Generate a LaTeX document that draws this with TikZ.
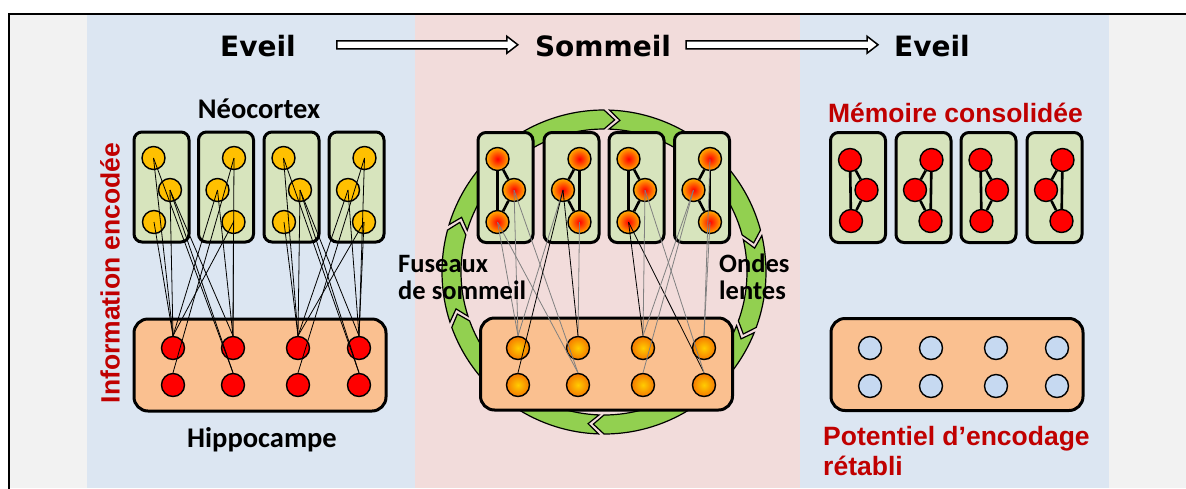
\documentclass[tikz,border=0pt]{standalone}
\usepackage{fontspec}
\setmainfont{Liberation Sans}
\newfontfamily\titlefont{DejaVu Sans}
\newfontfamily\califont{Carlito}
\usetikzlibrary{calc}
\definecolor{bgGray}{HTML}{F2F2F2}
\definecolor{bgBlue}{HTML}{DCE6F2}
\definecolor{bgPink}{HTML}{F2DCDB}
\definecolor{boxGreen}{HTML}{D7E4BD}
\definecolor{boxOrange}{HTML}{FAC090}
\definecolor{nYellow}{HTML}{FFC000}
\definecolor{nRed}{HTML}{FF0000}
\definecolor{nBlue}{HTML}{C6D9F1}
\definecolor{ringGreen}{HTML}{92D050}
\definecolor{darkRed}{HTML}{C00000}
\definecolor{hotEdge}{HTML}{FFB000}
\definecolor{warmIn}{HTML}{FFCC00}
\definecolor{warmEdge}{HTML}{F57A00}
\definecolor{linkGray}{HTML}{808080}
\begin{document}
\begin{tikzpicture}[x=1pt,y=-1pt,
 title/.style={font=\titlefont\bfseries\fontsize{28}{32}\selectfont,inner sep=0pt,anchor=base},
 blklab/.style={font=\califont\bfseries\fontsize{28.5}{32}\selectfont,inner sep=0pt,anchor=base},
 sidelab/.style={font=\califont\bfseries\fontsize{26.5}{29}\selectfont,inner sep=0pt,anchor=base west},
 redlab/.style={font=\bfseries\fontsize{26.5}{30}\selectfont,text=darkRed,inner sep=0pt},
 cbox/.style={rectangle,draw=black,line width=3pt,fill=boxGreen,rounded corners=8pt,minimum width=55pt,minimum height=110pt,inner sep=0pt},
 hbox/.style={rectangle,draw=black,line width=3pt,fill=boxOrange,rounded corners=14pt,minimum width=252pt,minimum height=92pt,inner sep=0pt},
 neuron/.style={circle,draw=black,line width=1.4pt,minimum size=23pt,inner sep=0pt},
 yeln/.style={neuron,fill=nYellow},
 redn/.style={neuron,fill=nRed},
 blun/.style={neuron,fill=nBlue},
 hotn/.style={neuron,inner color=red,outer color=hotEdge},
 warmn/.style={neuron,inner color=warmIn,outer color=warmEdge},
 link/.style={line width=0.8pt,black},
 glink/.style={line width=0.8pt,linkGray},
 tri/.style={line width=2.6pt,black},
 ringseg/.style={draw=black,line width=1.2pt,fill=ringGreen},
 arrowbody/.style={draw=black,line width=1.5pt,fill=white,line join=miter}
]
\useasboundingbox (0,0) rectangle (1186,488);
% backgrounds
\fill[white] (0,0) rectangle (1186,488);
\fill[bgGray] (9,14) rectangle (1186,488);
\fill[bgBlue] (87,15) rectangle (415,488);
\fill[bgPink] (415,15) rectangle (800,488);
\fill[bgBlue] (800,15) rectangle (1109,488);
\draw[line width=2pt] (9,490) -- (9,14) -- (1188,14);

% titles
\node[title] (eveilA) at (258,56) {Eveil};
\node[title] (sommeil) at (603,56) {Sommeil};
\node[title] (eveilB) at (932,56) {Eveil};
\coordinate (a1s) at ($(eveilA.east)+(41,-0.8)$);
\coordinate (a1t) at ($(sommeil.west)+(-17,-0.8)$);
\coordinate (a2s) at ($(sommeil.east)+(15,-0.8)$);
\coordinate (a2t) at ($(eveilB.west)+(-16,-0.8)$);
\foreach \s/\t in {a1s/a1t,a2s/a2t}{
  \draw[arrowbody] ($(\s)+(0,-4)$) -- ($(\t)+(-11,-4)$) -- ($(\t)+(-11,-8.5)$) -- (\t)
     -- ($(\t)+(-11,8.5)$) -- ($(\t)+(-11,4)$) -- ($(\s)+(0,4)$) -- cycle;
}

% ===== Left panel =====
\foreach \i/\cx/\s in {1/161.5/1,2/226/-1,3/291.5/1,4/356.5/-1}{
  \node[cbox] (Lbox\i) at (\cx,187) {};
  \node[yeln] (La\i) at ({\cx-8*\s},158) {};
  \node[yeln] (Lb\i) at ({\cx+8.5*\s},190) {};
  \node[yeln] (Lc\i) at ({\cx-7.5*\s},222) {};
}
\node[hbox] (Lhip) at (260,365) {};
\foreach \j/\hx in {1/173,2/233,3/298,4/359}{
  \node[redn] (LHt\j) at (\hx,348) {};
  \node[redn] (LHb\j) at (\hx,385) {};
}
\foreach \p/\q in {1/2,3/4}{
  \draw[link] (La\p.center) -- (LHt\p.north);
  \draw[link] (Lb\p.center) -- (LHt\p.north);
  \draw[link] (Lc\p.center) -- (LHt\p.north);
  \draw[link] (La\p.center) -- (LHb\q.north);
  \draw[link] (Lb\p.center) -- (LHt\q.north);
  \draw[link] (Lb\p.center) -- (LHb\q.north);
  \draw[link] (La\q.center) -- (LHt\q.north);
  \draw[link] (Lb\q.center) -- (LHt\q.north);
  \draw[link] (Lc\q.center) -- (LHt\q.north);
  \draw[link] (La\q.center) -- (LHb\p.north);
  \draw[link] (Lb\q.center) -- (LHt\p.north);
  \draw[link] (Lc\q.center) -- (LHt\p.north);
}
\node[blklab] (neo) at (259,118) {Néocortex};
\node[blklab] (hippo) at (262,447) {Hippocampe};
\node[redlab,rotate=90,anchor=base] (info) at (119.5,273) {Information encodée};

% ===== Middle panel =====
\begin{scope}[shift={(604,272)}]
\foreach \s/\e in {-90/-15,-15/20,20/90,90/160,160/195,195/270}{
  \pgfmathsetmacro\sa{\s+2}
  \pgfmathsetmacro\ea{\e+4}
  \pgfmathsetmacro\na{\s+6}
  \draw[ringseg] (\sa:162) arc[start angle=\sa,end angle=\e,radius=162] -- (\ea:152.5) -- (\e:143) arc[start angle=\e,end angle=\sa,radius=143] -- (\na:152.5) -- cycle;
}
\end{scope}
\foreach \i/\cx/\s in {1/505.5/1,2/571.5/-1,3/636.5/1,4/702/-1}{
  \node[cbox] (Mbox\i) at (\cx,187.5) {};
  \node[hotn] (Ma\i) at ({\cx-8*\s},159) {};
  \node[hotn] (Mb\i) at ({\cx+8.5*\s},190) {};
  \node[hotn] (Mc\i) at ({\cx-8*\s},222) {};
  \draw[tri] (Ma\i) -- (Mc\i);
  \draw[tri] (Ma\i) -- (Mb\i);
  \draw[tri] (Mb\i) -- (Mc\i);
}
\node[hbox] (Mhip) at (606.5,364) {};
\foreach \j/\hx in {1/518,2/578,3/643,4/704}{
  \node[warmn] (MHt\j) at (\hx,348) {};
  \node[warmn] (MHb\j) at (\hx,385) {};
}
\draw[glink] (Mc1.center) -- (MHt1.north);
\draw[glink] (Mb1.center) -- (MHt1.north);
\draw[glink] (Mc1.center) -- (MHb2.north);
\draw[glink] (Mb1.center) -- (MHb2.north);
\draw[glink] (Mb2.center) -- (MHt1.north);
\draw[glink] (Mc2.center) -- (MHt2.north);
\draw[link] (Mb2.center) -- (MHb1.north);
\draw[link] (Mb2.center) -- (MHt2.north);
\draw[link] (Mc3.center) -- (MHt3.north);
\draw[link] (Mc3.center) -- (MHb4.north);
\draw[glink] (Mb3.center) -- (MHt3.north);
\draw[glink] (Mb3.center) -- (MHb4.north);
\draw[glink] (Mb4.center) -- (MHt3.north);
\draw[glink] (Mb4.center) -- (MHb3.north);
\draw[glink] (Ma4.center) -- (MHt4.north);
\draw[glink] (Mc4.center) -- (MHt4.north);
\node[sidelab] (fus1) at (398,272) {Fuseaux};
\node[sidelab] (fus2) at (398,299) {de sommeil};
\node[sidelab] (ond1) at (719,272) {Ondes};
\node[sidelab] (ond2) at (719,299) {lentes};

% ===== Right panel =====
\foreach \i/\cx/\s in {1/858/1,2/923.5/-1,3/988.5/1,4/1054.5/-1}{
  \node[cbox] (Rbox\i) at (\cx,187.5) {};
  \node[redn] (Ra\i) at ({\cx-8*\s},160) {};
  \node[redn] (Rb\i) at ({\cx+8.5*\s},190) {};
  \node[redn] (Rc\i) at ({\cx-7*\s},221) {};
  \draw[tri] (Ra\i) -- (Rc\i);
  \draw[tri] (Ra\i) -- (Rb\i);
  \draw[tri] (Rb\i) -- (Rc\i);
}
\node[hbox] (Rhip) at (957,364.5) {};
\foreach \j/\hx in {1/870,2/931,3/996,4/1057}{
  \node[blun] (RHt\j) at (\hx,348) {};
  \node[blun] (RHb\j) at (\hx,386) {};
}
\node[redlab,anchor=base] (memo) at (955.5,122) {Mémoire consolidée};
\node[redlab,anchor=base west] (pot1) at (823,445) {Potentiel d’encodage};
\node[redlab,anchor=base west] (pot2) at (823,475) {rétabli};
\end{tikzpicture}
\end{document}
